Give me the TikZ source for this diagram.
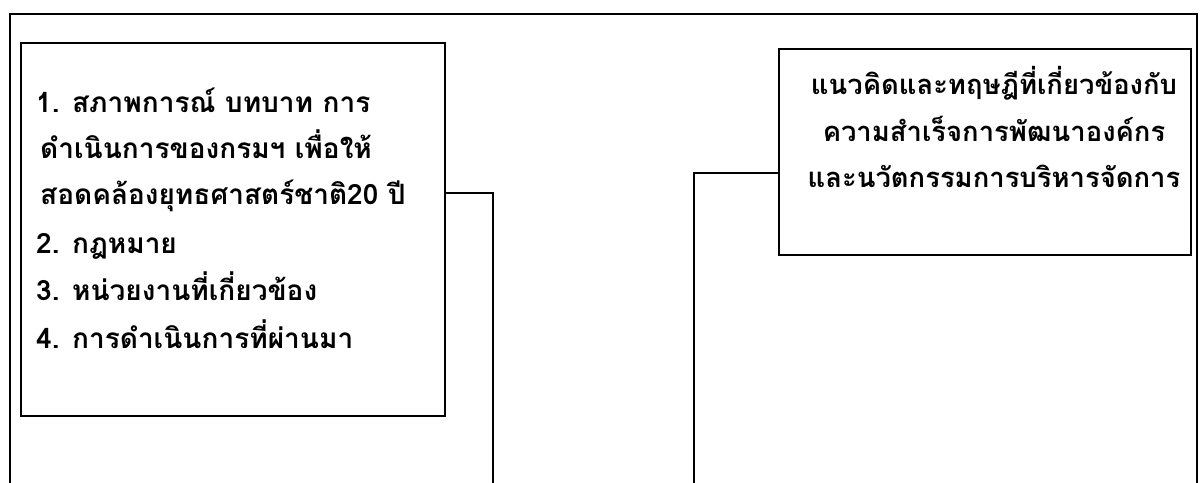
\documentclass[tikz,border=0pt]{standalone}
\usepackage{fontspec}
\newfontfamily\thaifont[Script=Thai]{Loma}
\begin{document}
\begin{tikzpicture}[x=1pt,y=-1pt,
  frame/.style={draw=black,line width=1.6pt},
  boxstyle/.style={draw=black,line width=1.6pt,inner sep=0pt},
  conn/.style={draw=black,line width=1.3pt},
  ltxt/.style={font=\thaifont\bfseries\fontsize{28}{32}\selectfont,inner sep=0pt,anchor=base west},
  rtxt/.style={font=\thaifont\bfseries\fontsize{27.4}{30}\selectfont,inner sep=0pt,anchor=base}]
\useasboundingbox (0,0) rectangle (1204,482);
\clip (0,0) rectangle (1204,482);
\fill[white] (0,0) rectangle (1204,482);
\draw[frame] (10,14) rectangle (1197,520);
\node[boxstyle,anchor=north west,minimum width=424pt,minimum height=373pt] (lbox) at (20,42) {};
\node[boxstyle,anchor=north west,minimum width=412pt,minimum height=206pt] (rbox) at (778,48) {};
\node[ltxt] (l1) at (36,112) {1. สภาพการณ์ บทบาท การ};
\node[ltxt] (l2) at (40,158) {ดำเนินการของกรมฯ เพื่อให้};
\node[ltxt] (l3) at (40,204) {สอดคล้องยุทธศาสตร์ชาติ20 ปี};
\node[ltxt] (l4) at (36,253) {2. กฎหมาย};
\node[ltxt] (l5) at (36,300) {3. หน่วยงานที่เกี่ยวข้อง};
\node[ltxt] (l6) at (36,348) {4. การดำเนินการที่ผ่านมา};
\node[rtxt] (r1) at (994,94) {แนวคิดและทฤษฎีที่เกี่ยวข้องกับ};
\node[rtxt] (r2) at (994,141) {ความสำเร็จการพัฒนาองค์กร};
\node[rtxt] (r3) at (994,187) {และนวัตกรรมการบริหารจัดการ};
\coordinate (lc) at (493,193);
\coordinate (lend) at (493,490);
\coordinate (rc) at (694,173);
\coordinate (rend) at (694,490);
\draw[conn] (lbox.east |- lc) -- (lc) -- (lend);
\draw[conn] (rbox.west |- rc) -- (rc) -- (rend);
\end{tikzpicture}
\end{document}
